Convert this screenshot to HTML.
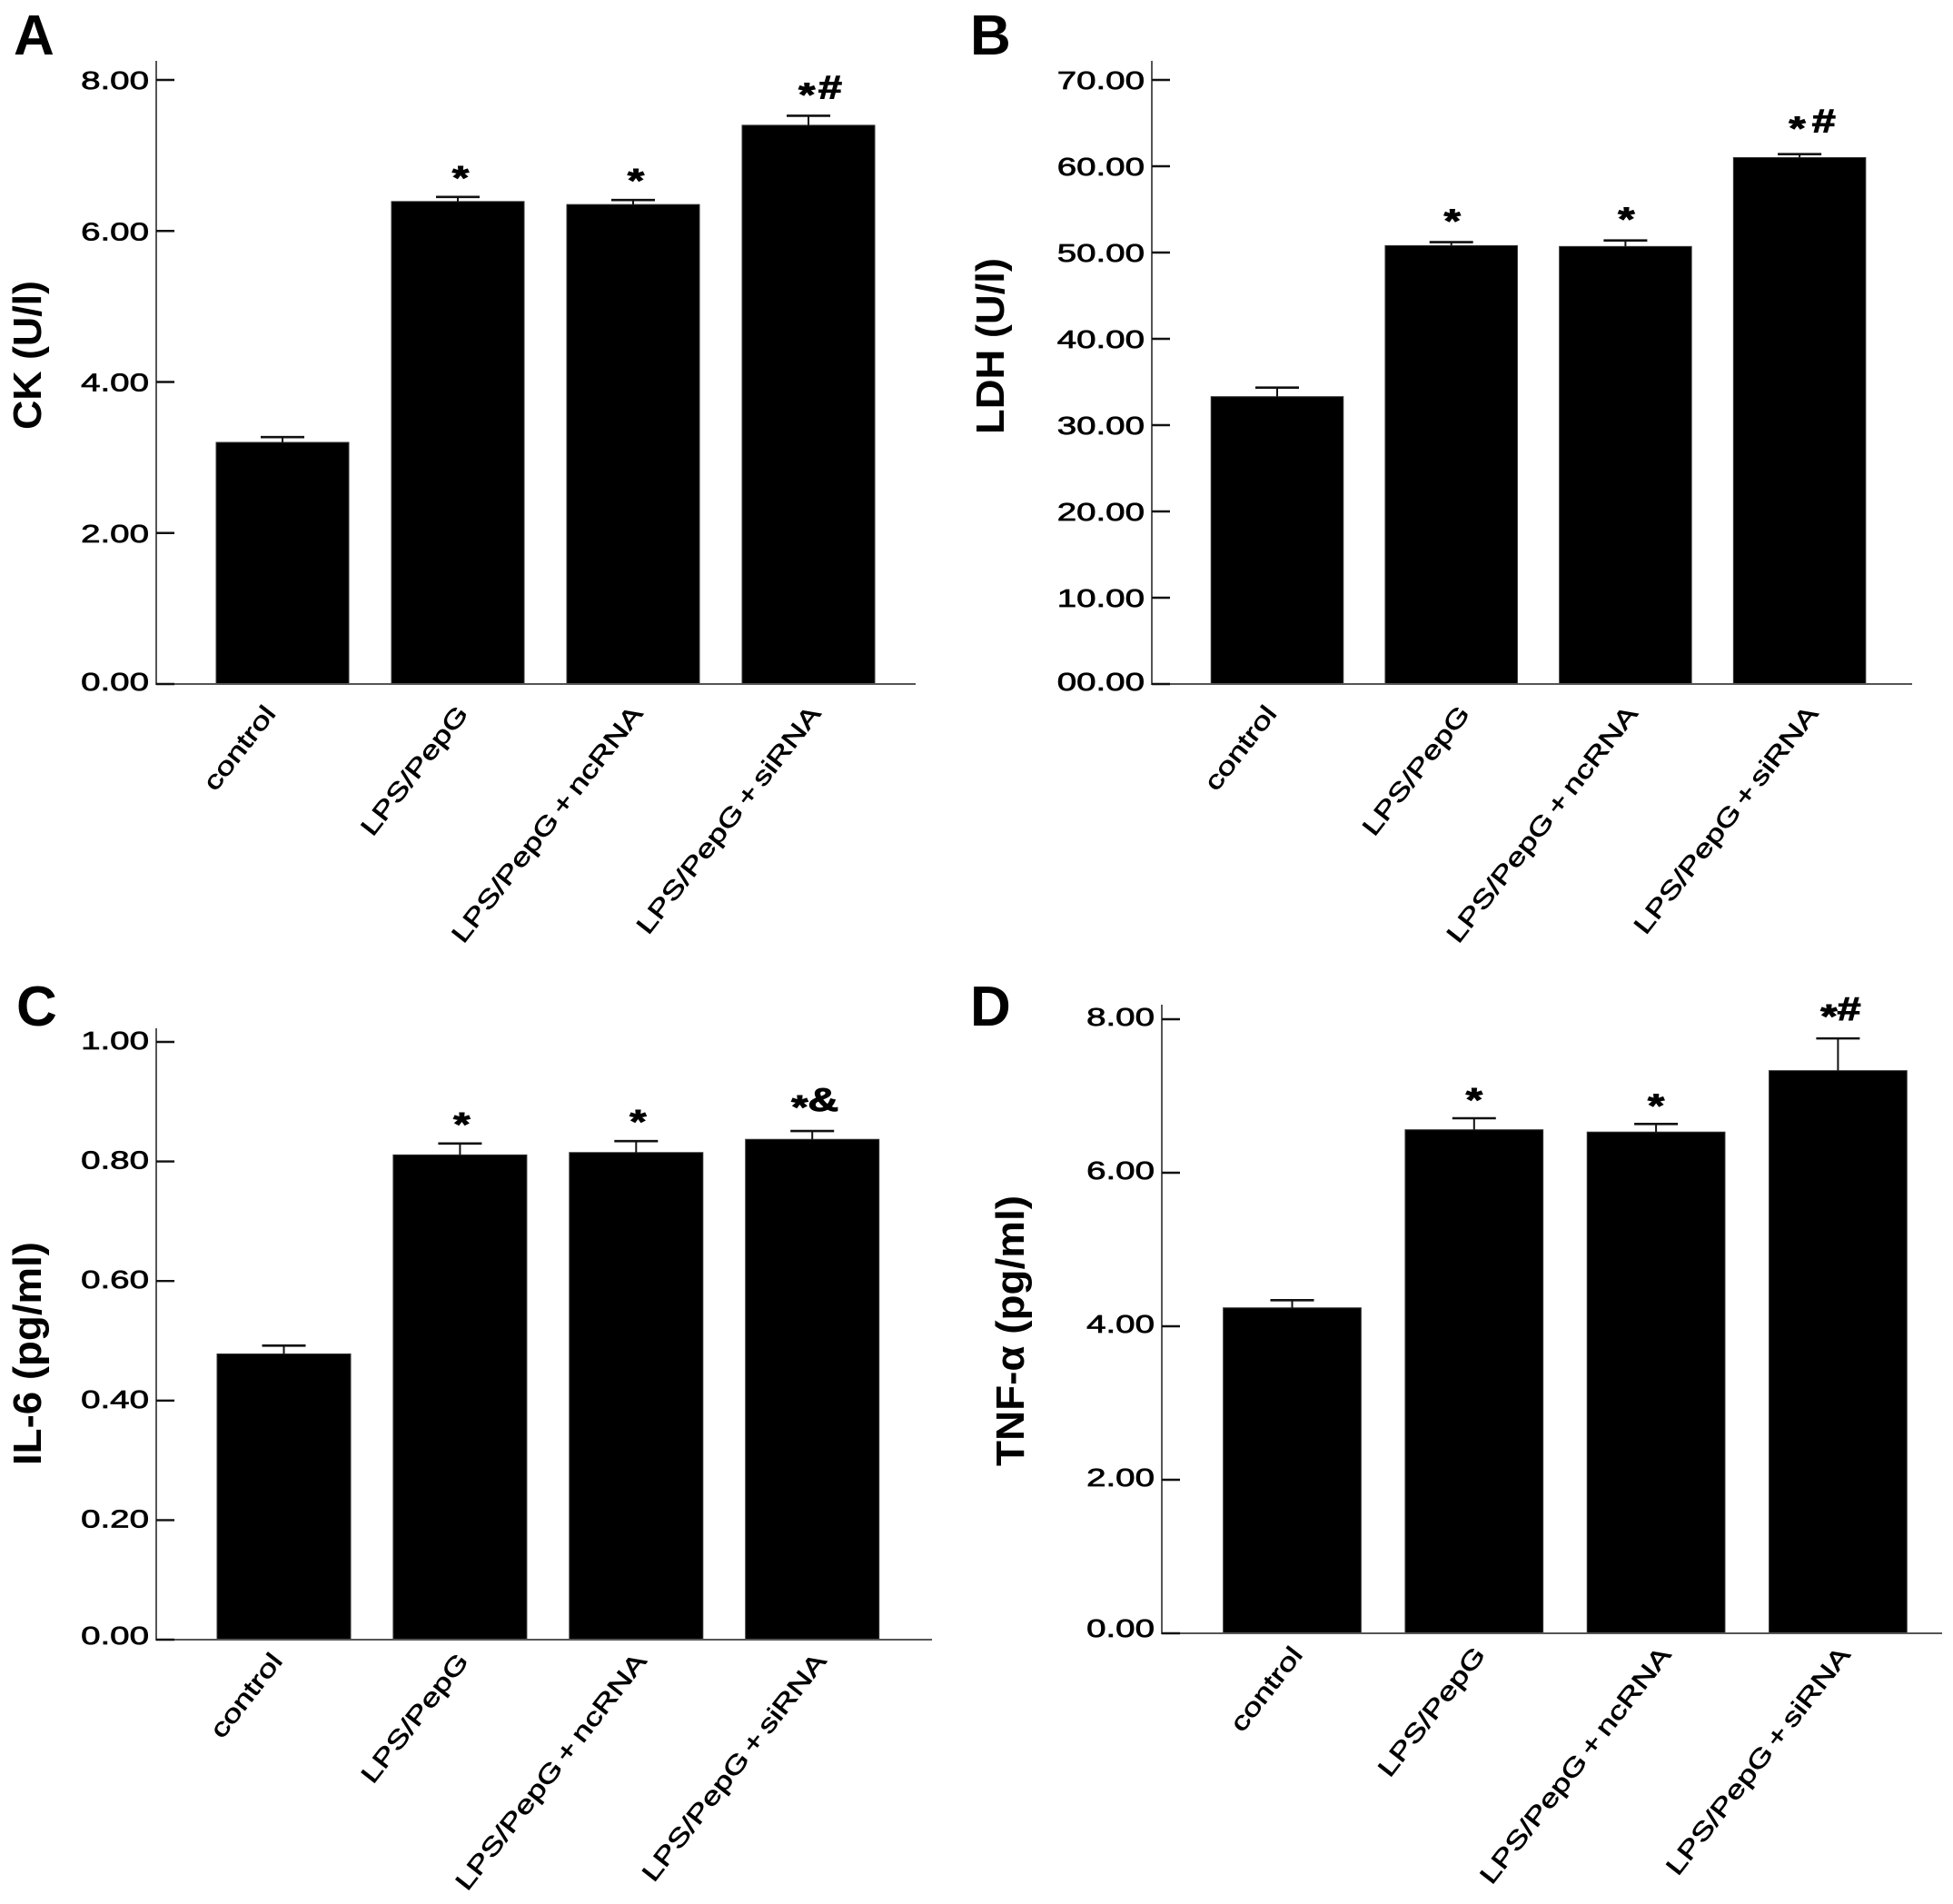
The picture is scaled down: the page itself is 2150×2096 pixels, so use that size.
<!DOCTYPE html>
<html lang="en">
<head>
<meta charset="utf-8">
<title>CK, LDH, IL-6 and TNF-α bar charts</title>
<style>
  html,body{margin:0;padding:0;background:#fff;}
  svg{display:block;font-family:"Liberation Sans",Arial,sans-serif;}
</style>
</head>
<body>
<svg id="figure" xmlns="http://www.w3.org/2000/svg" width="2150" height="2096" viewBox="0 0 2150 2096"></svg>
<script>
const categories = ['control', 'LPS/PepG', 'LPS/PepG + ncRNA', 'LPS/PepG + siRNA'];

const ckValues = [3.20, 6.39, 6.35, 7.40];
const ckErrors = [0.07, 0.06, 0.06, 0.125];
const ckTicks = [0, 2, 4, 6, 8];
const ckTickLabels = ['0.00', '2.00', '4.00', '6.00', '8.00'];
const ckMarks = ['', '*', '*', '* #'];

const ldhValues = [33.3, 50.8, 50.7, 61.0];
const ldhErrors = [1.05, 0.4, 0.7, 0.4];
const ldhTicks = [0, 10, 20, 30, 40, 50, 60, 70];
const ldhTickLabels = ['00.00', '10.00', '20.00', '30.00', '40.00', '50.00', '60.00', '70.00'];
const ldhMarks = ['', '*', '*', '*  #'];

const il6Values = [0.478, 0.811, 0.815, 0.837];
const il6Errors = [0.014, 0.019, 0.019, 0.014];
const il6Ticks = [0, 0.2, 0.4, 0.6, 0.8, 1.0];
const il6TickLabels = ['0.00', '0.20', '0.40', '0.60', '0.80', '1.00'];
const il6Marks = ['', '*', '*', '*&'];

const tnfValues = [4.24, 6.56, 6.53, 7.33];
const tnfErrors = [0.10, 0.15, 0.105, 0.42];
const tnfTicks = [0, 2, 4, 6, 8];
const tnfTickLabels = ['0.00', '2.00', '4.00', '6.00', '8.00'];
const tnfMarks = ['', '*', '*', '*#'];

const SVG_NS = 'http://www.w3.org/2000/svg';
const root = document.getElementById('figure');

function make(parent, tag, attrs, text) {
  const el = document.createElementNS(SVG_NS, tag);
  for (const k in attrs) el.setAttribute(k, attrs[k]);
  if (text !== undefined) el.textContent = text;
  parent.appendChild(el);
  return el;
}

function drawPanel(p) {
  const g = make(root, 'g', {});
  
  

  const letter = make(g, 'text', {x: p.letterX, y: p.letterY, 'font-size': 62, 'font-weight': 'bold', fill: '#000'}, p.letter);
  
  

  const yMax = p.ticks[p.ticks.length - 1];
  const yOf = v => p.baseY - v * (p.baseY - p.topTickY) / yMax;
  const xOf = i => p.firstX + p.stepX * i;

  // bars, error bars, significance marks
  p.values.forEach((v, i) => {
    const cx = xOf(i);
    const top = yOf(v);
    const bar = make(g, 'rect', {x: cx - p.barW / 2, y: top, width: p.barW, height: p.baseY - top, fill: '#000', stroke: '#333', 'stroke-width': 1});
    
    

    const capY = yOf(v + p.errors[i]);
    const stem = make(g, 'line', {x1: cx, x2: cx, y1: top, y2: capY, stroke: '#111', 'stroke-width': 2});
    
    
    const cap = make(g, 'line', {x1: cx - 24, x2: cx + 24, y1: capY, y2: capY, stroke: '#111', 'stroke-width': 2.6});
    
    

    const mark = p.marks[i];
    if (mark) {
      const double = mark.replace(/ /g, '').length > 1;
      const cy = capY - (double ? p.markGap2 : p.markGap1);
      const mx = cx + (double ? p.markDx2 : p.markDx1);
      const t = make(g, 'text', {
        transform: 'translate(' + mx + ',' + (cy + 13) + ') scale(1.3,1)',
        'text-anchor': 'middle', 'font-size': 36, 'font-weight': 'bold', fill: '#000', stroke: '#000', 'stroke-width': 1
      });
      
      
      const chars = mark.split('');
      chars.forEach((c, k) => {
        if (c === ' ') {
          make(t, 'tspan', {'font-size': 10}, '\u00a0');
        } else if (c === '*') {
          make(t, 'tspan', {dy: 8}, c);
        } else {
          make(t, 'tspan', {dy: -8}, c);
        }
      });
      if (!double) { t.setAttribute('transform', 'translate(' + mx + ',' + (cy + 21) + ') scale(1.3,1)'); t.firstChild.removeAttribute('dy'); }
    }
  });

  // axes
  const yAxis = make(g, 'line', {x1: p.axisX, x2: p.axisX, y1: p.axisTop, y2: p.baseY + 1, stroke: '#555', 'stroke-width': 2});
  
  
  const xAxis = make(g, 'line', {x1: p.axisX - 1, x2: p.axisRight, y1: p.baseY, y2: p.baseY, stroke: '#555', 'stroke-width': 2});
  
  

  // ticks and tick labels
  p.ticks.forEach((v, i) => {
    const y = yOf(v);
    const tick = make(g, 'line', {x1: p.axisX, x2: p.axisX + 20, y1: y, y2: y, stroke: '#111', 'stroke-width': 2.4});
    
    
    const zeroLift = v === 0 ? -3 : 0;
    const lab = make(g, 'text', {
      transform: 'translate(' + (p.axisX - 8) + ',' + (y + 10 + p.tickShift + zeroLift) + ') scale(1.4,1)',
      'text-anchor': 'end', 'font-size': 27.5, fill: '#000', stroke: '#000', 'stroke-width': 0.7
    }, p.tickLabels[i]);
    
    
  });

  // category labels
  categories.forEach((c, i) => {
    const ex = xOf(i) + p.labelDx[i] - 5;
    const ey = p.baseY + p.labelDy + 1;
    const lab = make(g, 'text', {
      transform: 'translate(' + ex + ',' + ey + ') rotate(-52) scale(' + p.labelScale + ',1)',
      'text-anchor': 'end', 'font-size': 27.5, 'word-spacing': -3, dy: '0.35em', fill: '#000', stroke: '#000', 'stroke-width': 0.6
    }, c);
    
    
  });

  // y axis title
  const title = make(g, 'text', {
    transform: 'translate(' + p.titleX + ',' + p.titleMidY + ') rotate(-90)',
    'text-anchor': 'middle', 'font-size': 44, 'font-weight': 'bold', fill: '#000',
    textLength: p.titleLen, lengthAdjust: 'spacingAndGlyphs'
  }, p.title);
  
  
}

drawPanel({
  id: 'ck', letter: 'A', letterX: 15, letterY: 60, title: 'CK (U/l)', titleX: 45, titleMidY: 391, titleLen: 164,
  values: ckValues, errors: ckErrors, ticks: ckTicks, tickLabels: ckTickLabels, marks: ckMarks,
  axisX: 172, axisTop: 67, axisRight: 1008, baseY: 753, topTickY: 88, tickShift: 0,
  firstX: 311, stepX: 193, barW: 146,
  labelDx: [-9, 10, 9, 12], labelDy: 26, labelScale: 1.33, markGap1: 30, markGap2: 32, markDx1: 3, markDx2: 13
});
drawPanel({
  id: 'ldh', letter: 'B', letterX: 1068, letterY: 60, title: 'LDH (U/l)', titleX: 1105, titleMidY: 381, titleLen: 194,
  values: ldhValues, errors: ldhErrors, ticks: ldhTicks, tickLabels: ldhTickLabels, marks: ldhMarks,
  axisX: 1268, axisTop: 67, axisRight: 2105, baseY: 753, topTickY: 88, tickShift: 0,
  firstX: 1406, stepX: 191.7, barW: 145.5,
  labelDx: [-2, 19, 12, 19], labelDy: 26, labelScale: 1.33, markGap1: 32, markGap2: 37, markDx1: 1, markDx2: 14
});
drawPanel({
  id: 'il6', letter: 'C', letterX: 18, letterY: 1129, title: 'IL-6 (pg/ml)', titleX: 45, titleMidY: 1490, titleLen: 246,
  values: il6Values, errors: il6Errors, ticks: il6Ticks, tickLabels: il6TickLabels, marks: il6Marks,
  axisX: 172, axisTop: 1132, axisRight: 1026, baseY: 1805, topTickY: 1147, tickShift: -2,
  firstX: 312.5, stepX: 193.9, barW: 147,
  labelDx: [-3, 8, 10, 14], labelDy: 17, labelScale: 1.33, markGap1: 30, markGap2: 35, markDx1: 2, markDx2: 3
});
drawPanel({
  id: 'tnf', letter: 'D', letterX: 1068, letterY: 1129, title: 'TNF-α (pg/ml)', titleX: 1127, titleMidY: 1465, titleLen: 298,
  values: tnfValues, errors: tnfErrors, ticks: tnfTicks, tickLabels: tnfTickLabels, marks: tnfMarks,
  axisX: 1279, axisTop: 1106, axisRight: 2138, baseY: 1798, topTickY: 1122, tickShift: -3,
  firstX: 1422.5, stepX: 200.3, barW: 151.7,
  labelDx: [10, 11, 15, 12], labelDy: 17, labelScale: 1.33, markGap1: 29, markGap2: 33, markDx1: 0, markDx2: 3
});
</script>
</body>
</html>
